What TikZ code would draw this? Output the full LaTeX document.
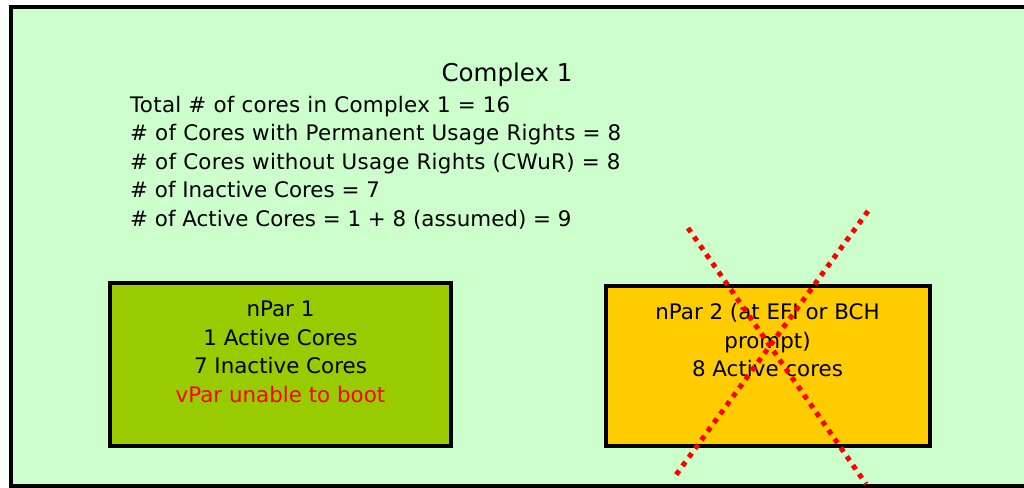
\documentclass[tikz,border=0pt]{standalone}
\usepackage{fontspec}
\setmainfont{DejaVu Sans}
\definecolor{bggreen}{HTML}{CCFFCC}
\definecolor{npargreen}{HTML}{99CC00}
\definecolor{nparyellow}{HTML}{FFCC00}
\definecolor{xred}{HTML}{FF0000}
\tikzset{
  body/.style={inner sep=0pt, font=\fontsize{21.4}{28.5}\selectfont, text=black},
  widebody/.style={body, font=\fontsize{21.4}{28.5}\selectfont\addfontfeature{LetterSpace=1.4}},
  title/.style={inner sep=0pt, font=\fontsize{24.5}{30}\selectfont, text=black},
  parbox/.style={draw=black, line width=4pt, inner sep=0pt},
  redx/.style={draw=xred, line width=5pt, dash pattern=on 5pt off 5.7pt},
}
\begin{document}
\begin{tikzpicture}[x=1pt,y=-1pt]
\useasboundingbox (0,0) rectangle (1024,487);
\clip (0,0) rectangle (1024,487);
\fill[white] (0,0) rectangle (1024,487);
% outer frame
\draw[line width=4pt, fill=bggreen] (11,7) rectangle (1040,486);
% title and summary
\node[title, anchor=base] (title) at (507,81.7) {Complex 1};
\node[widebody, anchor=base west] (l1) at (130,112) {Total \# of cores in Complex 1 = 16};
\node[widebody, anchor=base west] (l2) at (130,140.5) {\# of Cores with Permanent Usage Rights = 8};
\node[widebody, anchor=base west] (l3) at (130,169) {\# of Cores without Usage Rights (CWuR) = 8};
\node[body, anchor=base west] (l4) at (130,197.5) {\# of Inactive Cores = 7};
\node[body, anchor=base west] (l5) at (130,226) {\# of Active Cores = 1 + 8 (assumed) = 9};
% nPar 1
\node[parbox, fill=npargreen, minimum width=341.3pt, minimum height=163.3pt] (np1) at (280.65,364.65) {};
\node[body, anchor=base] (np1a) at (280.5,316.7) {nPar 1};
\node[body, anchor=base] (np1b) at (280.5,345.2) {1 Active Cores};
\node[body, anchor=base] (np1c) at (280.5,373.7) {7 Inactive Cores};
\node[body, anchor=base, text=xred] (np1d) at (280.5,402.2) {vPar unable to boot};
% nPar 2
\node[parbox, fill=nparyellow, minimum width=324pt, minimum height=160pt] (np2) at (768,366.3) {};
\node[body, anchor=base] (np2a) at (767.5,319.3) {nPar 2 (at EFI or BCH};
\node[body, anchor=base] (np2b) at (767.5,348) {prompt)};
\node[body, anchor=base] (np2c) at (767.5,376.7) {8 Active cores};
% red cross
\coordinate (xa1) at (688,228);
\coordinate (xa2) at (866,484);
\coordinate (xb1) at (868,211);
\coordinate (xb2) at (673,479);
\draw[redx] (xa1) -- (xa2);
\draw[redx] (xb1) -- (xb2);
\end{tikzpicture}
\end{document}
